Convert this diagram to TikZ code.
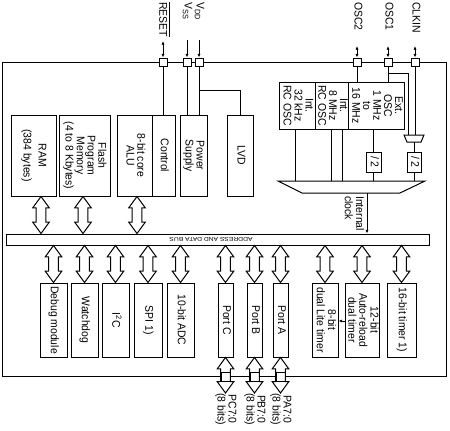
\documentclass[tikz,border=0pt]{standalone}
\usepackage{fontspec}
\setmainfont{Liberation Sans}
\usetikzlibrary{arrows.meta,calc}
\newcommand\rt[1]{\rotatebox{-90}{\scalebox{0.93}[1]{\begin{tabular}{@{}c@{}}#1\end{tabular}}}}
\newcommand\rtl[1]{\rotatebox{-90}{\scalebox{0.93}[1]{\begin{tabular}{@{}l@{}}#1\end{tabular}}}}
\newcommand\hdarrow[2]{\path[draw,line width=0.75pt,fill=white] let \p1=#1, \p2=#2 in
  (\x1,\y1) -- (\x1+6.2pt,\y1-8.5pt) -- (\x1+3.6pt,\y1-8.5pt) -- (\x1+3.6pt,\y2+8.5pt)
  -- (\x1+6.2pt,\y2+8.5pt) -- (\x1,\y2) -- (\x1-6.2pt,\y2+8.5pt) -- (\x1-3.6pt,\y2+8.5pt)
  -- (\x1-3.6pt,\y1-8.5pt) -- (\x1-6.2pt,\y1-8.5pt) -- cycle;}
\begin{document}
\begin{tikzpicture}[x=0.75pt,y=-0.75pt,
 lw/.style={line width=0.75pt},
 txt/.style={font=\fontsize{8.4}{7.6}\selectfont, inner sep=0pt},
 blk/.style={draw,lw,txt,fill=white},
 sz/.style 2 args={minimum width=#1*0.75pt,minimum height=#2*0.75pt},
 pin/.style={draw,lw,fill=white,minimum size=6pt,inner sep=0pt},
 ppin/.style={draw,lw,minimum size=6.75pt,inner sep=0pt},
 tip/.style={lw,-{Latex[length=2.8pt,width=2.4pt]}},
 tip2/.style={lw,{Latex[length=2.8pt,width=2.4pt]}-{Latex[length=2.8pt,width=2.4pt]}},
]
\useasboundingbox (0,0) rectangle (450,430);
% frame
\node[draw,lw,sz={444}{314}] (frame) at (224,219) {};
% bus
\node[draw,lw,fill=white,sz={423}{11}] (bus) at (217.5,239.5) {};
\node[font=\fontsize{4.2}{5}\selectfont,inner sep=0pt,rotate=180,xscale=1.2] (lbus) at (211,239.5) {ADDRESS AND DATA BUS};
% top blocks
\node[blk,sz={45}{81}] (ram) at (33.5,155.5) {\rt{RAM\\[3pt](384 bytes)}};
\node[blk,sz={51}{81}] (flash) at (84.5,155.5) {\rt{Flash\\Program\\Memory\\(4 to 8 Kbytes)}};
\node[blk,sz={35}{81}] (alu) at (134.5,155.5) {\rt{8-bit core\\ALU}};
\node[blk,sz={23}{81}] (ctrl) at (163.5,155.5) {\rt{Control}};
\node[blk,sz={27}{81}] (pwr) at (193.5,155.5) {\rt{Power\\Supply}};
\node[blk,sz={26}{81}] (lvd) at (240,155.5) {\rt{LVD}};
% oscillators
\node[blk,sz={36}{47}] (osc32) at (297,105.5) {\rt{Int.\\32 kHz\\RC OSC}};
\node[blk,sz={33}{47}] (osc8) at (331.5,105.5) {\rt{Int.\\8 MHz\\RC OSC}};
\node[blk,sz={56}{47}] (ext) at (376,105.5) {\rt{Ext.\\OSC\\1 MHz\\to\\16 MHz}};
\node[blk,sz={15}{20}] (div1) at (373.5,162) {\rt{/ 2}};
\node[blk,sz={14}{20}] (div2) at (414,162) {\rt{/ 2}};
% top pins
\node[pin] (preset) at (163,62) {};
\node[pin] (pvss) at (187,62) {};
\node[pin] (pvdd) at (199,62) {};
\node[pin] (posc2) at (357,62) {};
\node[pin] (posc1) at (388,62) {};
\node[pin] (pclk) at (415,62) {};
\node[txt,anchor=north] (lreset) at (163,2) {\rt{$\overline{\mbox{RESET}}$}};
\node[txt,anchor=north] (lvss) at (187,2) {\rt{V\textsubscript{SS}}};
\node[txt,anchor=north] (lvdd) at (199,2) {\rt{V\textsubscript{DD}}};
\node[txt,anchor=north] (losc2) at (357,2) {\rt{OSC2}};
\node[txt,anchor=north] (losc1) at (388,2) {\rt{OSC1}};
\node[txt,anchor=north] (lclkin) at (415,2) {\rt{CLKIN}};
\coordinate (areset) at (163,41);
\coordinate (avss) at (187,40);
\coordinate (avdd) at (199,40);
\coordinate (aosc2) at (357,46);
\coordinate (aosc1) at (388,46);
\coordinate (aclk) at (415,46);
\draw[tip2] (areset) -- (preset.north);
\draw[tip] (avss) -- (pvss.north);
\draw[tip] (avdd) -- (pvdd.north);
\draw[tip2] (aosc2) -- (posc2.north);
\draw[tip2] (aosc1) -- (posc1.north);
\draw[tip2] (aclk) -- (pclk.north);
% pin wiring
\draw[lw] (preset.south) -- (ctrl.north -| preset);
\draw[lw] (pvss.south) -- (pwr.north -| pvss);
\draw[lw] (pvdd.south) -- (pwr.north -| pvdd);
\coordinate (vddj) at (199,90);
\draw[lw] (vddj) -| (lvd.north);
\draw[lw] (posc2.south) -- (ext.north -| posc2);
\draw[lw] (posc1.south) -- (ext.north -| posc1);
\coordinate (o1j) at (388,73);
\coordinate (smuxa) at (408,135);
\coordinate (smuxb) at (415,135);
\coordinate (smuxo) at (414,142);
\draw[lw] (o1j) -| (smuxa);
\draw[lw] (pclk.south) -- (smuxb);
\draw[lw,fill=white] (404,135) -- (424,135) -- (421,142) -- (407,142) -- cycle;
\draw[lw] (smuxo) -- (div2.north);
% to main clock mux
\coordinate (mt) at (350,181);
\coordinate (o8a) at ($(osc8.south)+(-0.5,0)$);
\coordinate (o8b) at ($(osc8.south)+(10.5,0)$);
\coordinate (o32) at ($(osc32.south)+(-2,0)$);
\draw[lw] (o32) -- (o32 |- mt);
\draw[lw] (o8a) -- (o8a |- mt);
\draw[lw] (o8b) -- (o8b |- mt);
\draw[lw] (ext.south -| div1) -- (div1.north);
\draw[lw] (div1.south) -- (div1.south |- mt);
\draw[lw] (div2.south) -- (div2.south |- mt);
\draw[lw,fill=white] (278,181) -- (425,181) -- (400,193) -- (302,193) -- cycle;
\coordinate (clk) at (367,193);
\draw[tip] (clk) -- (bus.north -| clk);
\node[txt,anchor=north] (lclk) at (353,196) {\rtl{Internal\\clock}};
% top arrows
\coordinate (a1) at ($(ram.south)+(7.5,0)$);
\coordinate (a2) at ($(flash.south)+(-1.5,0)$);
\coordinate (a3) at ($(alu.south)+(2.5,0)$);
\hdarrow{(a1)}{(bus.north -| a1)}
\hdarrow{(a2)}{(bus.north -| a2)}
\hdarrow{(a3)}{(bus.north -| a3)}
% bottom blocks
\node[blk,sz={27}{74}] (debug) at (53.5,320) {\rt{Debug module}};
\node[blk,sz={27}{74}] (wdg) at (84.5,320) {\rt{Watchdog}};
\node[blk,sz={27}{74}] (i2c) at (115.5,320) {\rt{I\textsuperscript{2}C}};
\node[blk,sz={28}{74}] (spi) at (148,320) {\rt{SPI 1)}};
\node[blk,sz={27}{74}] (adc) at (180.5,320) {\rt{10-bit ADC}};
\node[blk,sz={15}{74}] (portc) at (225.5,320) {\rt{Port C}};
\node[blk,sz={15}{74}] (portb) at (254.5,320) {\rt{Port B}};
\node[blk,sz={15}{74}] (porta) at (280.5,320) {\rt{Port A}};
\node[blk,sz={26}{74}] (t8) at (325,320) {\rt{8-bit\\dual Lite timer}};
\node[blk,sz={34}{74}] (t12) at (362,320) {\rt{12-bit\\Auto-reload\\dual timer}};
\node[blk,sz={29}{74}] (t16) at (401.5,320) {\rt{16-bit timer 1)}};
\draw[tip] (t12.west |- 0,321) -- (t8.east |- 0,321);
\foreach \b in {debug,wdg,i2c,spi,adc,portc,portb,porta,t8,t12,t16}
  {\hdarrow{(bus.south -| \b)}{(\b.north)}}
% ports
\coordinate (pce) at (225.5,393);
\coordinate (pbe) at (254.5,393);
\coordinate (pae) at (280.5,393);
\hdarrow{(portc.south)}{(pce)}
\hdarrow{(portb.south)}{(pbe)}
\hdarrow{(porta.south)}{(pae)}
\node[ppin] (ppc) at (portc.south |- frame.south) {};
\node[ppin] (ppb) at (portb.south |- frame.south) {};
\node[ppin] (ppa) at (porta.south |- frame.south) {};
\node[txt,anchor=north] (lpc) at (pce) {\rt{PC7:0\\(8 bits)}};
\node[txt,anchor=north] (lpb) at (pbe) {\rt{PB7:0\\(8 bits)}};
\node[txt,anchor=north] (lpa) at (pae) {\rt{PA7:0\\(8 bits)}};
\end{tikzpicture}
\end{document}
